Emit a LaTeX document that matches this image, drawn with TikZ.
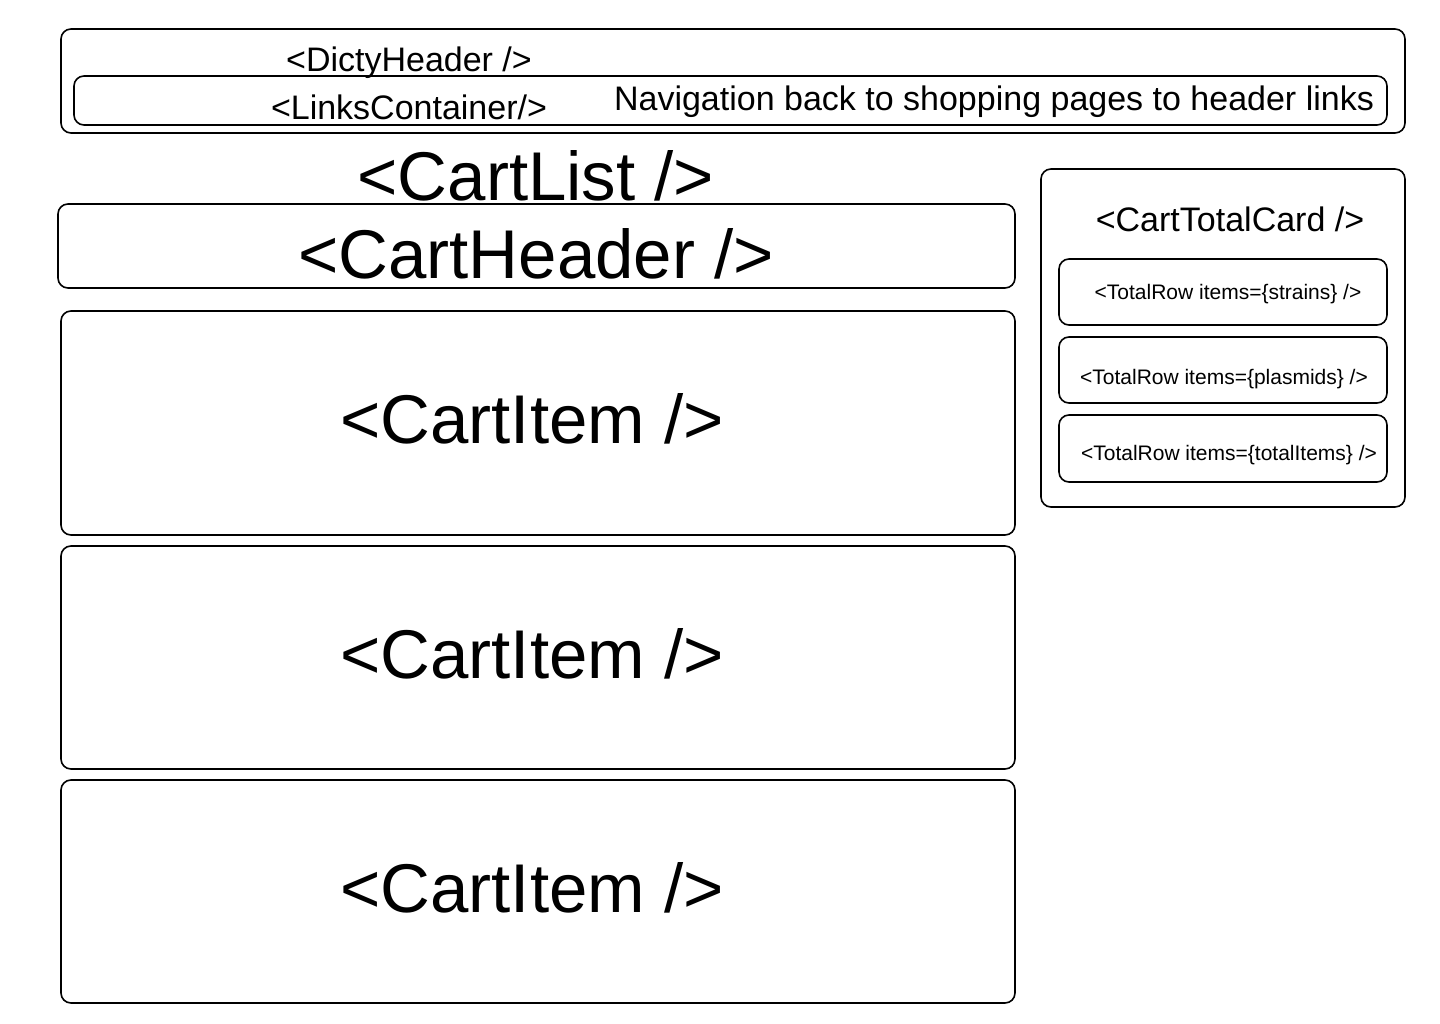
\documentclass[tikz,border=0pt]{standalone}
\usepackage{fontspec}
\setmainfont{Liberation Sans}
\usepackage{tikz}
\usetikzlibrary{positioning}

\begin{document}
\begin{tikzpicture}[
  x=1pt, y=-1pt,
  block/.style={draw, line width=1.6pt, rounded corners=10pt, inner sep=0pt},
  bigtext/.style={font=\fontsize{69}{80}\selectfont},
  midtext/.style={font=\fontsize{34}{40}\selectfont},
  smalltext/.style={font=\fontsize{21}{25}\selectfont}
]
\useasboundingbox (0,0) rectangle (1440,1024);

% page header
\node[block, minimum width=1344pt, minimum height=104pt] (header) at (733,81) {};
\node[block, minimum width=1313pt, minimum height=49pt] (links) at (730.5,100.5) {};
\node[midtext] (dicty) at (409,63) {<DictyHeader />};
\node[midtext] (linkslabel) at (409,107) {<LinksContainer/>};
\node[midtext] (navnote) at (994,102) {Navigation back to shopping pages to header links};

% cart list
\node[bigtext] (cartlist) at (536,176) {<CartList />};
\node[block, minimum width=957pt, minimum height=84pt] (cartheader) at (536.5,246) {};
\node[bigtext] at (536,254) {<CartHeader />};
\node[block, minimum width=954pt, minimum height=224pt] (item1) at (538,423) {};
\node[block, minimum width=954pt, minimum height=223pt] (item2) at (538,657.5) {};
\node[block, minimum width=954pt, minimum height=223pt] (item3) at (538,891.5) {};
\node[bigtext] at (532,419) {<CartItem />};
\node[bigtext] at (532,654) {<CartItem />};
\node[bigtext] at (532,888) {<CartItem />};

% totals card
\node[block, minimum width=364pt, minimum height=338pt] (card) at (1223,338) {};
\node[midtext] (cardtitle) at (1230,219) {<CartTotalCard />};
\node[block, minimum width=328pt, minimum height=66pt] (strains) at (1223,292) {};
\node[block, minimum width=328pt, minimum height=66pt] (plasmids) at (1223,370) {};
\node[block, minimum width=328pt, minimum height=67pt] (totalitems) at (1223,448.5) {};
\node[smalltext] at (1228,294) {<TotalRow items=\{strains\} />};
\node[smalltext] at (1224,379) {<TotalRow items=\{plasmids\} />};
\node[smalltext] at (1229,455) {<TotalRow items=\{totalItems\} />};
\end{tikzpicture}
\end{document}
